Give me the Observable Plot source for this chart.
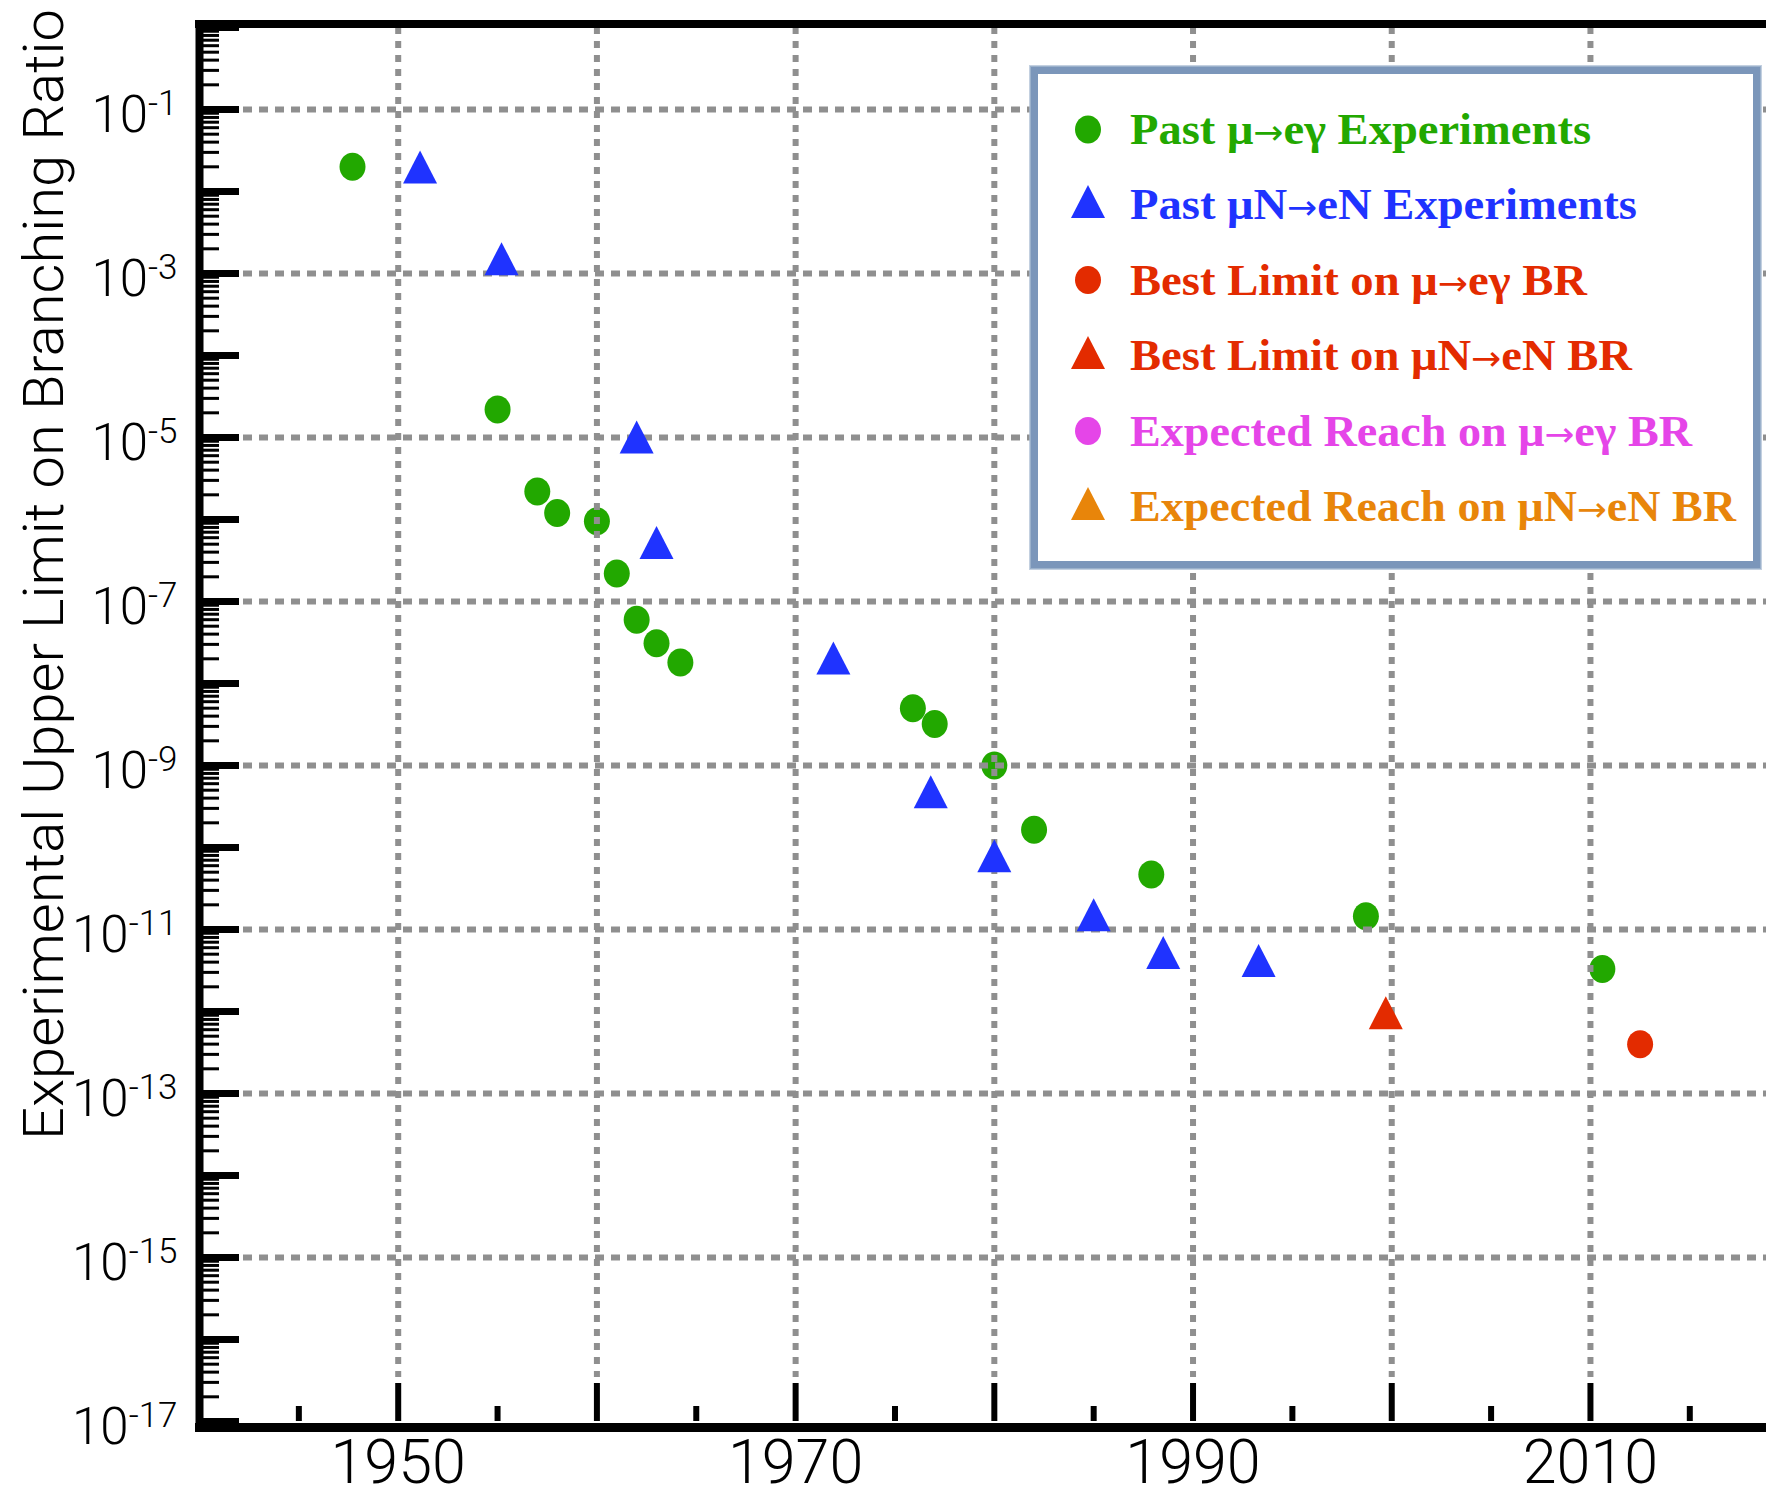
<!DOCTYPE html>
<html>
<head>
<meta charset="utf-8">
<script src="https://cdn.jsdelivr.net/npm/d3@7"></script>
<script src="https://cdn.jsdelivr.net/npm/@observablehq/plot@0.6"></script>
<style>
  html, body { margin: 0; padding: 0; background: #fff; }
  #chart { width: 1766px; height: 1498px; overflow: hidden; }
</style>
</head>
<body>
<div id="chart"></div>
<script>
// ---------------- data ----------------
const muegYears  = [1947.7, 1955.0, 1957.0, 1958.0, 1960.0, 1961.0, 1962.0, 1963.0, 1964.2, 1975.9, 1977.0, 1980.0, 1982.0, 1987.9, 1998.7, 2010.6];
const muegLimits = [2.0e-2, 2.2e-5, 2.2e-6, 1.2e-6, 9.5e-7, 2.2e-7, 6.0e-8, 3.1e-8, 1.8e-8, 5.0e-9, 3.2e-9, 1.0e-9, 1.65e-10, 4.7e-11, 1.45e-11, 3.3e-12];

const muNYears   = [1951.1, 1955.2, 1962.0, 1963.0, 1971.9, 1976.8, 1980.0, 1985.0, 1988.5, 1993.3];
const muNLimits  = [1.7e-2, 1.3e-3, 8.7e-6, 4.5e-7, 1.75e-8, 4.1e-10, 6.8e-11, 1.3e-11, 4.5e-12, 3.6e-12];

const bestMuegYears  = [2012.5];
const bestMuegLimits = [4.0e-13];
const bestMuNYears   = [1999.7];
const bestMuNLimits  = [8.3e-13];

const legendLabels = [
  "Past μ→eγ Experiments",
  "Past μN→eN Experiments",
  "Best Limit on μ→eγ BR",
  "Best Limit on μN→eN BR",
  "Expected Reach on μ→eγ BR",
  "Expected Reach on μN→eN BR"
];
const legendShapes = ["circle", "triangle", "circle", "triangle", "circle", "triangle"];

const yLabelExponents = [-1, -3, -5, -7, -9, -11, -13, -15, -17];
const xLabelYears = [1950, 1970, 1990, 2010];
const xMajorYears = [1950, 1960, 1970, 1980, 1990, 2000, 2010];
const xMinorYears = [1945, 1955, 1965, 1975, 1985, 1995, 2005, 2015];
const yAxisTitle = "Experimental Upper Limit on Branching Ratio";

// ---------------- styles ----------------
const GREEN = "#22a800", BLUE = "#1f33ff", RED = "#e32b00", MAGENTA = "#e545e8", ORANGE = "#e8850a";
const legendColors = [GREEN, BLUE, RED, RED, MAGENTA, ORANGE];
const GRID = "#8f8f8f";
const SANS = "Roboto, 'Liberation Sans', Arial, sans-serif";

const toRows = (xs, ys) => xs.map((x, i) => ({year: x, limit: ys[i]}));

// tick positions on the log axis
const yMajor = d3.range(0, -18, -1).map(e => Math.pow(10, e));
const yMinor = [];
for (let e = -17; e < 0; e++) for (let k = 2; k <= 9; k++) yMinor.push(k * Math.pow(10, e));
const yLabelVals = yLabelExponents.map(e => Math.pow(10, e));
const yGrid = yLabelVals.filter(v => v > 1e-16);

// custom symbols (slightly tall ellipse, tall triangle centred on centroid)
const ellipse = {
  draw(ctx, size) {
    const r = Math.sqrt(size / Math.PI), rx = r, ry = r * 14 / 13, k = 0.5523;
    ctx.moveTo(rx, 0);
    ctx.bezierCurveTo(rx, ry * k, rx * k, ry, 0, ry);
    ctx.bezierCurveTo(-rx * k, ry, -rx, ry * k, -rx, 0);
    ctx.bezierCurveTo(-rx, -ry * k, -rx * k, -ry, 0, -ry);
    ctx.bezierCurveTo(rx * k, -ry, rx, -ry * k, rx, 0);
    ctx.closePath();
  }
};
const tri = {
  draw(ctx, size) {
    const s = Math.sqrt(size / Math.PI) / 13;
    ctx.moveTo(0, -22 * s);
    ctx.lineTo(17 * s, 11 * s);
    ctx.lineTo(-17 * s, 11 * s);
    ctx.closePath();
  }
};

const expFormat = v => "10^" + Math.round(Math.log10(v));

const plot = Plot.plot({
  width: 1766,
  height: 1498,
  marginLeft: 199,
  marginRight: 0,
  marginTop: 27,
  marginBottom: 77,
  x: {domain: [1940, 2018.86]},
  y: {type: "log", domain: [1e-17, 1]},
  style: {fontFamily: SANS, fontWeight: 300, color: "#000", background: "#fff"},
  marks: [
    Plot.dot(toRows(muegYears, muegLimits), {x: "year", y: "limit", r: 13, symbol: ellipse, fill: GREEN}),
    Plot.ruleY(yGrid, {stroke: GRID, strokeWidth: 6, strokeDasharray: "9,7", insetLeft: 44}),
    Plot.ruleX(xMajorYears, {stroke: GRID, strokeWidth: 6, strokeDasharray: "7,7", insetBottom: 44}),
    Plot.dot(toRows(muNYears, muNLimits), {x: "year", y: "limit", r: 13, symbol: tri, fill: BLUE}),
    Plot.dot(toRows(bestMuegYears, bestMuegLimits), {x: "year", y: "limit", r: 13, symbol: ellipse, fill: RED}),
    Plot.dot(toRows(bestMuNYears, bestMuNLimits), {x: "year", y: "limit", r: 13, symbol: tri, fill: RED}),
    // y axis: major, minor ticks pointing inward, labels
    Plot.axisY(yMajor, {anchor: "left", tickSize: -40, strokeWidth: 7, tickFormat: () => "", label: null}),
    Plot.axisY(yMinor, {anchor: "left", tickSize: -20, strokeWidth: 3, tickFormat: () => "", label: null}),
    Plot.axisY(yLabelVals, {anchor: "left", tickSize: 0, tickPadding: 22, tickFormat: expFormat, fontSize: 51, dy: 6, label: null}),
    // x axis
    Plot.axisX(xMajorYears, {anchor: "bottom", tickSize: -38, strokeWidth: 6, tickFormat: () => "", label: null}),
    Plot.axisX(xMinorYears, {anchor: "bottom", tickSize: -15, strokeWidth: 6, tickFormat: () => "", label: null}),
    Plot.axisX(xLabelYears, {anchor: "bottom", tickSize: 0, tickPadding: 18, tickFormat: d => String(d), fontSize: 61, label: null}),
    // frame (left, top, bottom)
    Plot.ruleX([1940], {strokeWidth: 8, insetTop: -7, insetBottom: -11}),
    Plot.ruleY([1], {strokeWidth: 8, dy: -3.5, insetLeft: -4}),
    Plot.ruleY([1e-17], {strokeWidth: 9, dy: 6, insetLeft: -4})
  ]
});

document.getElementById("chart").appendChild(plot);
const svg = d3.select(plot);

// superscript exponents on y tick labels
svg.selectAll('g[aria-label="y-axis tick label"] text').each(function () {
  const t = this.textContent;
  if (t.indexOf("^") < 0) return;
  const [base, ex] = t.split("^");
  const sel = d3.select(this);
  sel.text(null);
  sel.append("tspan").text(base);
  sel.append("tspan").attr("dy", -17).attr("font-size", 35).text(ex);
});

// y axis title
svg.append("text")
  .attr("transform", "translate(63,574.5) rotate(-90)")
  .attr("text-anchor", "middle")
  .attr("font-family", SANS)
  .attr("font-weight", 300)
  .attr("font-size", 56)
  .attr("textLength", 1131)
  .attr("lengthAdjust", "spacingAndGlyphs")
  .attr("fill", "#000")
  .text(yAxisTitle);

// legend box
const lg = svg.append("g").attr("aria-label", "legend").attr("text-anchor", "start");
lg.append("rect")
  .attr("x", 1034).attr("y", 70).attr("width", 723).attr("height", 495)
  .attr("fill", "#fff").attr("stroke", "#7b96ba").attr("stroke-width", 8);
lg.append("rect")
  .attr("x", 1030).attr("y", 66).attr("width", 731).attr("height", 503)
  .attr("fill", "none").attr("stroke", "#a9bcd3").attr("stroke-width", 2).attr("opacity", 0.7);

const baselines = [144, 219, 294.5, 370, 445.5, 521];
const textWidths = [461, 507, 457, 502, 562, 606];
const symPath = (shape) => {
  const p = d3.path();
  (shape === "circle" ? ellipse : tri).draw(p, 13 * 13 * Math.PI);
  return p.toString();
};
legendLabels.forEach((lab, i) => {
  const by = baselines[i];
  const cy = legendShapes[i] === "circle" ? by - 14.5 : by - 12;
  lg.append("path")
    .attr("d", symPath(legendShapes[i]))
    .attr("transform", `translate(1088,${cy})`)
    .attr("fill", legendColors[i]);
  const t = lg.append("text")
    .attr("x", 1130).attr("y", by)
    .attr("text-anchor", "start")
    .attr("font-family", "'Liberation Serif', 'DejaVu Serif', serif")
    .attr("font-weight", "bold")
    .attr("font-size", 44)
    .attr("textLength", textWidths[i])
    .attr("lengthAdjust", "spacingAndGlyphs")
    .attr("fill", legendColors[i]);
  const parts = lab.split("→");
  parts.forEach((part, j) => {
    if (j > 0) {
      t.append("tspan")
        .attr("font-family", "'DejaVu Sans', sans-serif")
        .attr("font-weight", "normal")
        .attr("font-size", 34)
        .text("→");
    }
    t.append("tspan").text(part);
  });
});
</script>
</body>
</html>
